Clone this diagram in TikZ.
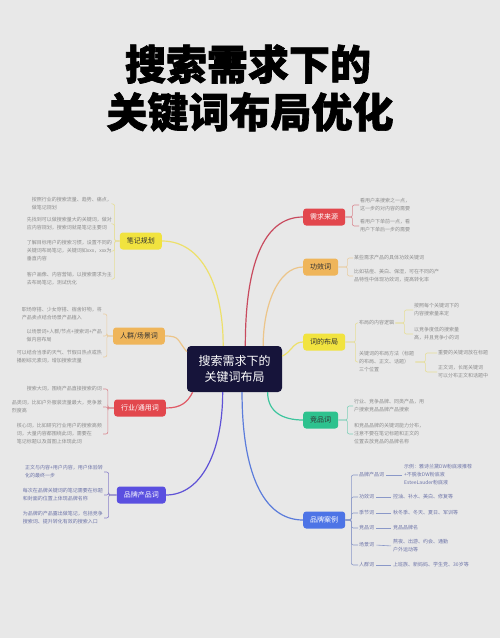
\documentclass[tikz,border=0pt]{standalone}
\usepackage{fontspec}
\setmainfont{Noto Sans CJK SC}
\newfontfamily\titlefont[FakeBold=1.6]{Noto Sans CJK SC}
\usetikzlibrary{calc}
\definecolor{bg}{HTML}{E8E8E8}
\definecolor{fYel}{HTML}{F1E33F}
\definecolor{fOra}{HTML}{EFB55A}
\definecolor{fRed}{HTML}{E2474D}
\definecolor{fPur}{HTML}{5A4FE0}
\definecolor{fBlu}{HTML}{4D74E6}
\definecolor{fGrn}{HTML}{2DC28E}
\definecolor{fNavy}{HTML}{16143A}
\definecolor{lYel}{HTML}{EDE06A}
\definecolor{lOra}{HTML}{ECC58A}
\definecolor{lRedA}{HTML}{C84A5E}
\definecolor{lRedB}{HTML}{E05A66}
\definecolor{lPur}{HTML}{5F52D6}
\definecolor{lBlu}{HTML}{5B7CDB}
\definecolor{lGrn}{HTML}{3EC59E}
\definecolor{bYel}{HTML}{E6DE98}
\definecolor{bOra}{HTML}{E8CDA2}
\definecolor{bRed}{HTML}{D9868E}
\definecolor{bPur}{HTML}{8A80C8}
\definecolor{bBlu}{HTML}{8A98C8}
\definecolor{bGrn}{HTML}{7FD0B8}
\definecolor{leafgray}{HTML}{8C8C8C}
\definecolor{leafblue}{HTML}{6D74A8}
\definecolor{darktext}{HTML}{333333}
\tikzset{
  titletext/.style={font=\fontsize{41}{41}\selectfont\bfseries\titlefont, text=black, inner sep=0pt},
  mnode/.style={rounded corners=3pt, minimum height=17pt, inner xsep=7pt, inner ysep=2pt, font=\fontsize{7}{8}\selectfont},
  leaf/.style={font=\fontsize{5}{8}\selectfont, text=leafgray, align=left, inner sep=1pt},
  bleaf/.style={leaf, text=leafblue},
  mainline/.style={line width=1.2pt},
  brk/.style={line width=0.6pt, rounded corners=2pt},
}
\begin{document}
\begin{tikzpicture}[x=1pt,y=-1pt]
\fill[bg] (0,0) rectangle (500,638);
\useasboundingbox (0,0) rectangle (500,638);

% title
\node[titletext] (t1) at (248,64) {搜索需求下的};
\node[titletext] (t2) at (250,112) {关键词布局优化};

% central
\node[fill=fNavy, text=white, rounded corners=4pt, minimum width=95pt, minimum height=46pt, align=center,
  font=\fontsize{12}{16}\selectfont, inner sep=2pt] (cen) at (234.5,369) {搜索需求下的\\关键词布局};

% main nodes left
\node[mnode, fill=fYel, text=darktext, anchor=east] (bj) at (162,241) {笔记规划};
\node[mnode, fill=fOra, text=darktext, anchor=east] (rq) at (165,336) {人群/场景词};
\node[mnode, fill=fRed, text=white, anchor=east] (hy) at (166,408) {行业/通用词};
\node[mnode, fill=fPur, text=white, anchor=east] (pc) at (166,495) {品牌产品词};
% main nodes right
\node[mnode, fill=fRed, text=white, anchor=west] (xq) at (303,217) {需求来源};
\node[mnode, fill=fOra, text=darktext, anchor=west] (gx) at (303,267) {功效词};
\node[mnode, fill=fYel, text=darktext, anchor=west] (cb) at (303,342) {词的布局};
\node[mnode, fill=fGrn, text=darktext, anchor=west] (jp) at (303,420) {竞品词};
\node[mnode, fill=fBlu, text=white, anchor=west] (pa) at (303,520) {品牌案例};

% main connectors
\draw[mainline, lYel] (cen.116.6) .. controls +(0,-60) and +(40,0) .. (bj.east);
\draw[mainline, lOra] (cen.160.3) .. controls +(-10,-12) and +(15,0) .. (rq.east);
\draw[mainline, lRedB] (cen.209) .. controls +(-5,10) and +(15,0) .. (hy.east);
\draw[mainline, lPur] (cen.243.4) .. controls +(0,60) and +(35,0) .. (pc.east);
\draw[mainline, lRedA] (cen.65.5) .. controls +(0,-80) and +(-40,0) .. (xq.west);
\draw[mainline, lOra] (cen.39.9) .. controls +(0,-40) and +(-25,0) .. (gx.west);
\draw[mainline, lYel] (cen.15.3) .. controls +(10,-5) and +(-10,0) .. (cb.west);
\draw[mainline, lGrn] (cen.-35.3) .. controls +(0,20) and +(-20,0) .. (jp.west);
\draw[mainline, lBlu] (cen.-72) .. controls +(0,80) and +(-40,0) .. (pa.west);

% ---- 笔记规划 leaves
\node[leaf, anchor=east] (bj1) at (113,204) {按照行业的搜索流量、趋势、痛点，\\做笔记规划};
\node[leaf, anchor=east] (bj2) at (113,224) {先找到可以做搜索量大的关键词，做对\\应内容规划，搜索词就是笔记主要词};
\node[leaf, anchor=east] (bj3) at (113,251) {了解目标用户的搜索习惯，设置不同的\\关键词布局笔记，关键词如xxx，xxx为\\垂直内容};
\node[leaf, anchor=east] (bj4) at (113,279) {客户画像、内容营销，以搜索需求为主\\去布局笔记，测试优化};
\foreach \l in {bj1,bj2,bj3,bj4}{\draw[brk, bYel] (bj.west) -- ++(-5,0) |- (\l.east);}

% ---- 人群/场景词 leaves
\node[leaf, anchor=east] (rq1) at (103,314) {职场穿搭、少女穿搭、宿舍好物，将\\产品卖点结合场景产品植入};
\node[leaf, anchor=east] (rq2) at (103,336) {以场景词+人群/节点+搜索词+产品\\做内容布局};
\node[leaf, anchor=east] (rq3) at (103,357) {可以结合当季的天气、节假日热点或热\\播剧综元素词，增加搜索流量};
\foreach \l in {rq1,rq2,rq3}{\draw[brk, bOra] (rq.west) -- ++(-6,0) |- (\l.east);}

% ---- 行业/通用词 leaves
\node[leaf, anchor=east] (hy1) at (103,389) {搜索大词，围绕产品直接搜索的词};
\node[leaf, anchor=east] (hy2) at (103,407) {品类词，比如户外服装流量最大，竞争激\\烈度高};
\node[leaf, anchor=east] (hy3) at (103,434) {核心词，比如研究行业用户的搜索高频\\词，大量内容都围绕此词，需要在\\笔记标题以及首图上体现此词};
\foreach \l in {hy1,hy2,hy3}{\draw[brk, bRed] (hy.west) -- ++(-6,0) |- (\l.east);}

% ---- 品牌产品词 leaves
\node[bleaf, anchor=east] (pc1) at (104,472) {正文与内容+用户内容，用户体验转\\化的最终一步};
\node[bleaf, anchor=east] (pc2) at (104,495) {每次在品牌关键词的笔记需要在标题\\和封面的位置上体现品牌名称};
\node[bleaf, anchor=east] (pc3) at (104,518) {为品牌的产品露出做笔记，包括竞争\\搜索词、提升转化有效的搜索入口};
\foreach \l in {pc1,pc2,pc3}{\draw[brk, bPur] (pc.west) -- ++(-8,0) |- (\l.east);}

% ---- 需求来源 leaves
\node[leaf, anchor=west] (xq1) at (359,205) {看用户来搜索之一点，\\这一步的对内容的需要};
\node[leaf, anchor=west] (xq2) at (359,226) {看用户下单前一点，看\\用户下单后一步的需要};
\foreach \l in {xq1,xq2}{\draw[brk, bRed] (xq.east) -- ++(7,0) |- (\l.west);}

% ---- 功效词 leaves
\node[leaf, anchor=west] (gx1) at (353,258) {某些需求产品的具体功效关键词};
\node[leaf, anchor=west] (gx2) at (353,276) {比如祛痘、美白、保湿，可在不同的产\\品特性中体现功效词，提高转化率};
\foreach \l in {gx1,gx2}{\draw[brk, bOra] (gx.east) -- ++(9,0) |- (\l.west);}

% ---- 词的布局
\node[leaf, anchor=west] (s1) at (358,323) {布局的内容逻辑};
\node[leaf, anchor=west] (s2) at (358,362) {关键词的布局方法（标题\\的布局、正文、话题）\\三个位置};
\foreach \l in {s1,s2}{\draw[brk, bYel] (cb.east) -- ++(10,0) |- (\l.west);}
\node[leaf, anchor=west] (s1a) at (413,310) {按照每个关键词下的\\内容搜索量来定};
\node[leaf, anchor=west] (s1b) at (413,334) {以竞争度低的搜索量\\高，并且竞争小的词};
\foreach \l in {s1a,s1b}{\draw[brk, bYel] (s1.east) -- ++(9,0) |- (\l.west);}
\node[leaf, anchor=west] (s2a) at (437,353) {重要的关键词放在标题};
\node[leaf, anchor=west] (s2b) at (437,372) {正文词，长尾关键词\\可以分布正文和话题中};
\foreach \l in {s2a,s2b}{\draw[brk, bYel] (s2.east) -- ++(10,0) |- (\l.west);}

% ---- 竞品词 leaves
\node[leaf, anchor=west] (jp1) at (353,406) {行业、竞争品牌、同类产品，用\\户搜索竞品品牌产品搜索};
\node[leaf, anchor=west] (jp2) at (353,434) {和竞品品牌的关键词能力分布，\\注意不要在笔记标题和正文的\\位置去放竞品的品牌名称};
\foreach \l in {jp1,jp2}{\draw[brk, bGrn] (jp.east) -- ++(9,0) |- (\l.west);}

% ---- 品牌案例
\node[bleaf, anchor=west] (pb1) at (358,475) {品牌产品词};
\node[bleaf, anchor=west] (pb2) at (358,497) {功效词};
\node[bleaf, anchor=west] (pb3) at (358,513) {季节词};
\node[bleaf, anchor=west] (pb4) at (358,528) {竞品词};
\node[bleaf, anchor=west] (pb5) at (358,545) {场景词};
\node[bleaf, anchor=west] (pb6) at (358,565) {人群词};
\foreach \l in {pb1,pb2,pb3,pb4,pb5,pb6}{\draw[brk, bBlu] (pa.east) -- ++(6,0) |- (\l.west);}
\node[bleaf, anchor=west] (v1) at (403,475) {示例：雅诗兰黛DW粉底液推荐\\+不脱妆DW粉底液\\EsteeLauder粉底液};
\node[bleaf, anchor=west] (v2) at (392,497) {控油、补水、美白、修复等};
\node[bleaf, anchor=west] (v3) at (392,513) {秋冬季、冬天、夏日、军训等};
\node[bleaf, anchor=west] (v4) at (392,528) {竞品品牌名};
\node[bleaf, anchor=west] (v5) at (392,546) {熬夜、出游、约会、通勤\\户外运动等};
\node[bleaf, anchor=west] (v6) at (392,565) {上班族、新妈妈、学生党、30岁等};
\foreach \a/\b in {pb1/v1,pb2/v2,pb3/v3,pb4/v4,pb5/v5,pb6/v6}{\draw[line width=0.6pt, bBlu, shorten <=1pt, shorten >=1pt] (\a.east) -- (\b.west);}
\end{tikzpicture}
\end{document}
